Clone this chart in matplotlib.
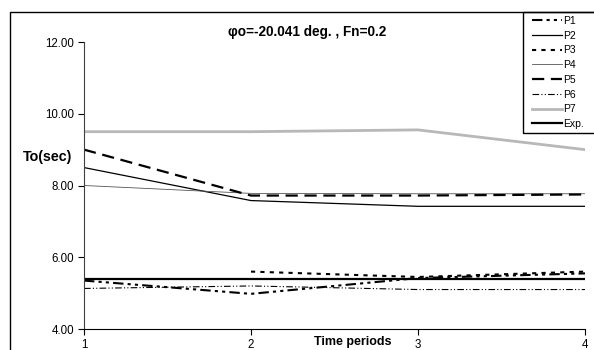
import numpy as np
import matplotlib
import matplotlib.pyplot as plt
from matplotlib.patches import Rectangle

matplotlib.use('Agg')
plt.rcParams['font.family'] = ['Liberation Sans', 'DejaVu Sans']

# Data
periods = [1, 2, 3, 4]
p1 = [5.35, 4.98, 5.42, 5.55]
p2 = [8.50, 7.58, 7.42, 7.42]
p3 = [np.nan, 5.60, 5.45, 5.60]
p4 = [8.00, 7.78, 7.77, 7.77]
p5 = [9.00, 7.72, 7.72, 7.75]
p6 = [5.13, 5.20, 5.10, 5.10]
p7 = [9.50, 9.50, 9.55, 9.00]
exp_vals = [5.40, 5.40, 5.40, 5.40]
y_ticks = [4, 6, 8, 10, 12]

fig = plt.figure(figsize=(5.94, 3.5), dpi=100)
ax = fig.add_axes([84 / 594, 21 / 350, 501 / 594, 287 / 350])

# outer chart border (cropped on right and bottom)
fig.patches.append(Rectangle((10 / 594, -0.05), 1.2, 1 - 12 / 350 + 0.05,
                             transform=fig.transFigure, fill=False,
                             edgecolor='black', linewidth=1.0))

ax.plot(periods, p1, color='black', lw=1.5, dashes=(5, 2, 1.5, 2, 1.5, 2), label='P1')
ax.plot(periods, p2, color='black', lw=0.9, label='P2')
ax.plot(periods, p3, color='black', lw=1.5, dashes=(2, 2.5), label='P3')
ax.plot(periods, p4, color='#555555', lw=0.6, label='P4')
ax.plot(periods, p5, color='black', lw=1.6, dashes=(5.5, 3), label='P5')
ax.plot(periods, p6, color='black', lw=0.8, dashes=(6, 2, 1, 2, 1, 2), label='P6')
ax.plot(periods, p7, color='#b8b8b8', lw=2.0, label='P7')
ax.plot(periods, exp_vals, color='black', lw=1.6, label='Exp.')

ax.set_xlim(1, 4)
ax.set_ylim(4, 12)
ax.set_xticks(periods)
ax.set_yticks(y_ticks)
ax.set_yticklabels([f'{v:.2f}' for v in y_ticks])
ax.tick_params(direction='out', length=4, width=0.8, labelsize=8.3, pad=3)
for side in ['top', 'right']:
    ax.spines[side].set_visible(False)
ax.spines['left'].set_color('#404040')
ax.spines['bottom'].set_color('black')

fig.text(307 / 594, 1 - 32 / 350, 'φo=-20.041 deg. , Fn=0.2', ha='center',
         va='center', fontsize=9.8, fontweight='bold')
fig.text(48 / 594, 1 - 157 / 350, 'To(sec)', ha='center', va='center',
         fontsize=10.3, fontweight='bold')
fig.text(353 / 594, 1 - 342 / 350, 'Time periods', ha='center', va='center',
         fontsize=9, fontweight='bold')

leg = fig.legend(loc='upper left', bbox_to_anchor=(530 / 594, 1 - 14 / 350),
                 fontsize=7.5, frameon=False, handlelength=2.9,
                 handletextpad=0.1, labelspacing=0.45, borderpad=0.2,
                 borderaxespad=0)
# legend frame runs past the right edge, as in the original
fig.patches.append(Rectangle((523 / 594, 1 - 133 / 350), 0.2, 121 / 350,
                             transform=fig.transFigure, fill=True,
                             facecolor='none', edgecolor='black', linewidth=1.0))

fig.savefig('out.png', dpi=100)
